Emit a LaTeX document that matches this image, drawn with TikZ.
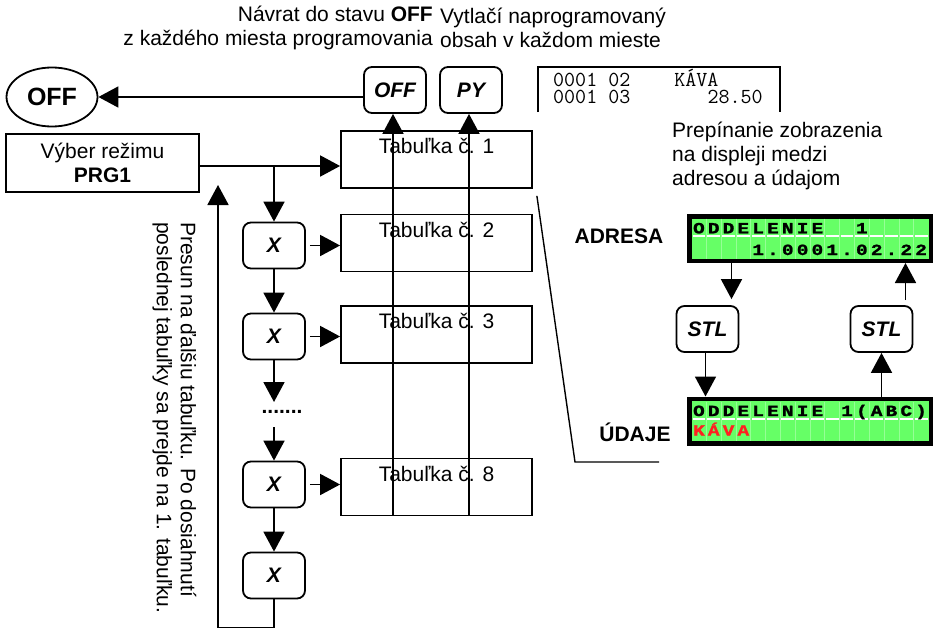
\documentclass[tikz,border=0pt]{standalone}
\usepackage{fontspec}
\setmainfont{Liberation Sans}
\newfontfamily\lcdfont[FakeStretch=1.25,FakeBold=1.5]{Liberation Mono}
\usetikzlibrary{arrows.meta,shapes.geometric}
\definecolor{lcdgreen}{RGB}{102,255,102}
\definecolor{lcdgrid}{RGB}{150,255,150}
\definecolor{lcdred}{RGB}{255,32,32}

\begin{document}
\begin{tikzpicture}[x=1pt,y=-1pt,
  every node/.style={font=\fontsize{21}{24}\selectfont},
  ln/.style={line width=1.8pt},
  arr/.style={line width=1.8pt,-{Triangle[length=20pt,width=21pt]}},
  keybox/.style={draw,line width=1.8pt,rounded corners=8pt,minimum width=62pt,minimum height=46pt,font=\fontsize{21}{24}\selectfont\bfseries\itshape},
  tabbox/.style={draw,line width=1.8pt,minimum width=191pt,minimum height=57pt},
  lcd/.style={draw,line width=4.5pt,fill=lcdgreen,minimum width=241.5pt,minimum height=44.5pt,inner sep=0pt},
  lcdch/.style={anchor=base,inner sep=0pt,font=\fontsize{15.5}{15}\lcdfont\bfseries},
  tape/.style={anchor=base west,inner sep=0pt,align=left,font=\fontsize{21.4}{16.6}\ttfamily}]
\useasboundingbox (0,0) rectangle (937,629);

\node[align=right,anchor=east,inner sep=0pt] (noteoff) at (433,28) {Návrat do stavu \textbf{OFF}\\z každého miesta programovania};
\node[align=left,anchor=west,inner sep=0pt] (notepy) at (440,28) {Vytlačí naprogramovaný\\obsah v každom mieste};

\node[draw,ellipse,ln,minimum width=91pt,minimum height=59pt,inner sep=0pt,font=\fontsize{25}{25}\selectfont\bfseries] (offstate) at (52,97) {OFF};
\node[keybox] (keyoff) at (395,90) {OFF};
\node[keybox] (keypy) at (471,90) {PY};
\draw[arr] (keyoff.west |- offstate.east) -- (offstate.east);

\draw[ln] (538,112) -- (538,67) -- (780,67) -- (780,112);
\node[tape] (tape) at (553,103.3) {0001~02~~~~KÁVA\\0001~03~~~~~~~28.50};

\node[draw,ln,minimum width=193pt,minimum height=58pt,align=center] (vyber) at (102.5,163) {Výber režimu\\\textbf{PRG1}};

\foreach \n/\yy in {1/159.5,2/243,3/334.5,8/487}
  \node[tabbox,label={[anchor=center,yshift=-16pt]north:Tabuľka č. \n}] (tab\n) at (436.5,\yy) {};

\node[keybox] (keyx2) at (274,245.5) {X};
\node[keybox] (keyx3) at (274,336.5) {X};
\node[keybox] (keyx8) at (274,484.5) {X};
\node[keybox] (keyxl) at (274,575.5) {X};
\node[inner sep=0pt,font=\fontsize{21}{24}\selectfont\bfseries] (dots) at (282,412) {.......};

\coordinate (split) at (274,166);
\coordinate (dotstop) at (274,402);
\coordinate (dotsbot) at (274,427);
\coordinate (back) at (218,185);
\draw[ln] (vyber.east |- split) -- (split);
\draw[arr] (split) -- (tab1.west |- split);
\draw[arr] (split) -- (keyx2.north);
\draw[arr] (keyx2.south) -- (keyx3.north);
\draw[arr] (keyx3.south) -- (dotstop);
\draw[arr] (dotsbot) -- (keyx8.north);
\draw[arr] (keyx8.south) -- (keyxl.north);
\draw[arr] (keyxl.south) -- ++(0,28) -| (back);
\draw[arr] ([xshift=4pt]keyx2.east) -- (keyx2.east -| tab2.west);
\draw[arr] ([xshift=4pt]keyx3.east) -- (keyx3.east -| tab3.west);
\draw[arr] ([xshift=4pt]keyx8.east) -- (keyx8.east -| tab8.west);

\coordinate (offfoot) at (393,515);
\coordinate (pyfoot) at (469,515);
\draw[arr] (offfoot) -- (offfoot |- keyoff.south);
\draw[arr] (pyfoot) -- (pyfoot |- keypy.south);

\node[rotate=-90,anchor=west,align=left,inner sep=0pt] (hint) at (174.5,222) {Presun na ďalšiu tabuľku. Po dosiahnutí\\poslednej tabuľky sa prejde na 1. tabuľku.};

\draw[line width=1.4pt] ([shift={(4,7)}]tab1.south east) -- (575,462) -- (659,462);

\node[align=left,anchor=west,inner sep=0pt] (switchnote) at (672,156) {Prepínanie zobrazenia\\na displeji medzi\\adresou a údajom};
\node[font=\fontsize{21}{24}\selectfont\bfseries] (adresa) at (619,236) {ADRESA};
\node[font=\fontsize{21}{24}\selectfont\bfseries] (udaje) at (635,432) {ÚDAJE};

\node[lcd] (lcdA) at (810,238.5) {};
\node[lcd] (lcdB) at (810,421) {};
\foreach \k in {1,...,15} {
  \draw[lcdgrid,line width=0.7pt] ({691.5+\k*14.8125},218.5) -- ({691.5+\k*14.8125},258.5);
  \draw[lcdgrid,line width=0.7pt] ({691.5+\k*14.8125},401.5) -- ({691.5+\k*14.8125},440.5);
}
\draw[white,line width=2pt,dash pattern=on 12.8125pt off 2pt,dash phase=13.8125pt] (691.5,236) -- (928.5,236);
\draw[white,line width=2pt,dash pattern=on 12.8125pt off 2pt,dash phase=13.8125pt] (691.5,418.5) -- (928.5,418.5);
\foreach \ch [count=\i] in {O,D,D,E,L,E,N,I,E,{},{},1}
  \node[lcdch] (ra\i) at ({684.09+\i*14.8125},233.3) {\ch};
\foreach \ch [count=\i from 5] in {1,{.},0,0,0,1,{.},0,2,{.},2,2}
  \node[lcdch] (rb\i) at ({684.09+\i*14.8125},255) {\ch};
\foreach \ch [count=\i] in {O,D,D,E,L,E,N,I,E,{},1,{(},A,B,C,{)}}
  \node[lcdch] (rc\i) at ({684.09+\i*14.8125},416) {\ch};
\foreach \ch [count=\i] in {K,Á,V,A}
  \node[lcdch,text=lcdred] (rd\i) at ({684.09+\i*14.8125},435.5) {\ch};

\node[keybox] (stlA) at (707.5,329) {STL};
\node[keybox] (stlB) at (881.5,329) {STL};
\coordinate (stlAin) at ([xshift=24pt,yshift=6pt]stlA.north);
\coordinate (stlAout) at ([xshift=-2pt]stlA.south);
\coordinate (stlBout) at ([xshift=24pt,yshift=5pt]stlB.north);
\draw[arr] (stlAin |- lcdA.south) -- (stlAin);
\draw[arr] (stlAout) -- (stlAout |- lcdB.north);
\draw[arr] (stlB.south |- lcdB.north) -- (stlB.south);
\draw[arr] (stlBout) -- (stlBout |- lcdA.south);

\end{tikzpicture}
\end{document}
